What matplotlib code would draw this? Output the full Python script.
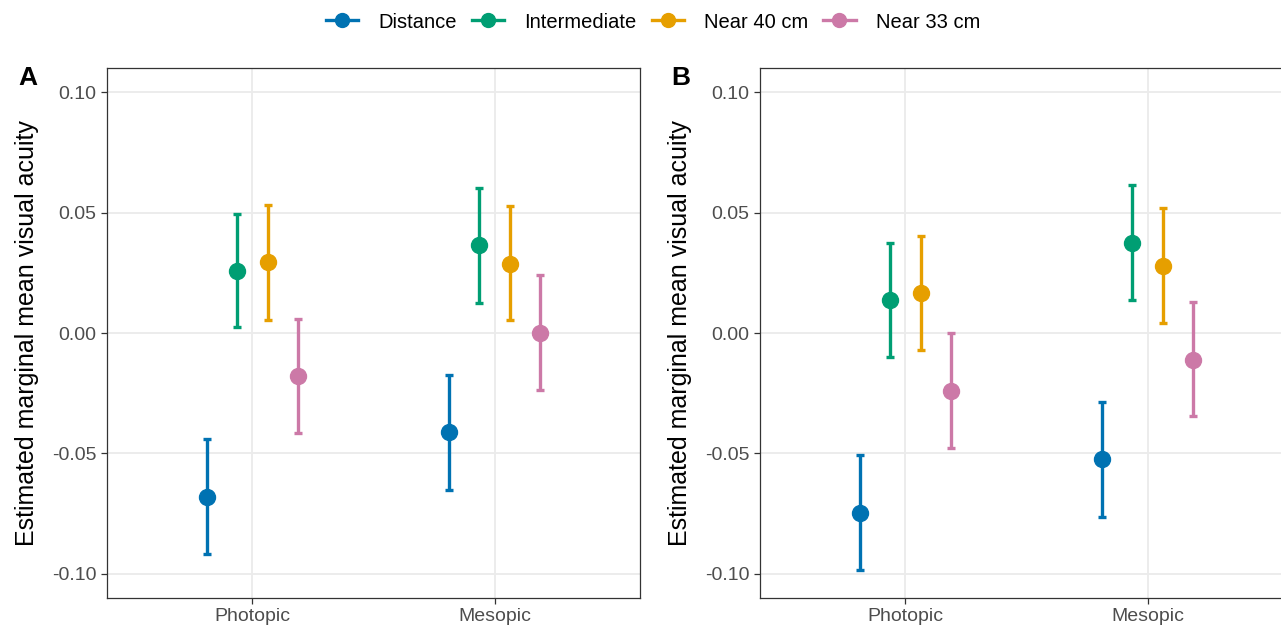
import numpy as np
import matplotlib.pyplot as plt
from matplotlib.lines import Line2D

plt.rcParams['font.family'] = ['Liberation Sans', 'DejaVu Sans']

# DATA
conditions = ["Photopic", "Mesopic"]
distances = ["Distance", "Intermediate", "Near 40 cm", "Near 33 cm"]
colors = ["#0072B2", "#009E73", "#E69F00", "#CC79A7"]

# panel A: estimate, lower, upper  (rows = distance, cols = condition)
a_est = [[-0.0681, -0.0412], [0.0259, 0.0366], [0.0296, 0.0288], [-0.0180, 0.0002]]
a_low = [[-0.0917, -0.0652], [0.0023, 0.0126], [0.0056, 0.0052], [-0.0416, -0.0238]]
a_up  = [[-0.0441, -0.0176], [0.0495, 0.0602], [0.0532, 0.0528], [0.0060, 0.0242]]

# panel B
b_est = [[-0.0747, -0.0524], [0.0135, 0.0375], [0.0168, 0.0280], [-0.0242, -0.0110]]
b_low = [[-0.0983, -0.0764], [-0.0101, 0.0139], [-0.0072, 0.0043], [-0.0478, -0.0346]]
b_up  = [[-0.0507, -0.0288], [0.0375, 0.0615], [0.0404, 0.0520], [-0.0002, 0.0130]]

yticks = [-0.10, -0.05, 0.00, 0.05, 0.10]
ytick_labels = ["-0.10", "-0.05", "0.00", "0.05", "0.10"]
dodge = [-0.1875, -0.0625, 0.0625, 0.1875]

W, H = 1281, 630
fig = plt.figure(figsize=(W / 100, H / 100), dpi=100)


def panel(left_px, est, low, up, letter):
    ax = fig.add_axes([left_px / W, (H - 598) / H, 533 / W, 530 / H])
    x = np.arange(1, len(conditions) + 1)
    for i, name in enumerate(distances):
        e = np.array(est[i])
        lo = np.array(low[i])
        hi = np.array(up[i])
        ax.errorbar(x + dodge[i], e, yerr=[e - lo, hi - e], fmt="o", color=colors[i],
                    ms=11.5, elinewidth=2.4, capsize=3, capthick=2.4, zorder=3)
    ax.set_xlim(0.4, 2.6)
    ax.set_ylim(-0.11, 0.11)
    ax.set_xticks(x)
    ax.set_xticklabels(conditions)
    ax.set_yticks(yticks)
    ax.set_yticklabels(ytick_labels)
    ax.grid(True, color="#EBEBEB", lw=1.3, zorder=0)
    ax.set_axisbelow(True)
    for s in ax.spines.values():
        s.set_color("#333333")
        s.set_linewidth(0.9)
    ax.tick_params(colors="#333333", labelcolor="#4D4D4D", labelsize=14, length=4.5, width=0.9, pad=3)
    ax.set_ylabel("Estimated marginal mean visual acuity", fontsize=18, color="black")
    ax.yaxis.set_label_coords(-68 / 533, 0.5)
    fig.text((left_px - 79) / W, 1 - 78 / H, letter, fontsize=19, fontweight="bold", ha="center", va="center")
    return ax


panel(107, a_est, a_low, a_up, "A")
panel(760, b_est, b_low, b_up, "B")

handles = [Line2D([], [], color=c, marker="o", ms=10, lw=2.4) for c in colors]
fig.legend(handles, distances, loc="center", bbox_to_anchor=(653 / W, 1 - 22 / H), ncol=4,
           frameon=False, fontsize=14.5, handlelength=1.6, handletextpad=1.0, columnspacing=0.75)

plt.savefig("out.png", dpi=100)
